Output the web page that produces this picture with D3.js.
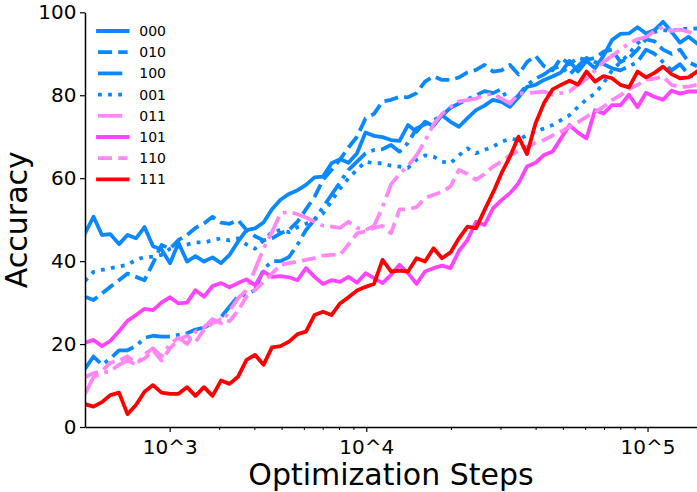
<!DOCTYPE html>
<html><head><meta charset="utf-8">
<script src="https://cdn.jsdelivr.net/npm/d3@7"></script>
<style>body{margin:0;background:#fff} svg{display:block} text{font-family:"DejaVu Sans",sans-serif}</style>
</head><body>
<svg id="chart" width="697" height="492"></svg>
<script>
const steps = [1000,1072,1149,1232,1321,1416,1518,1628,1745,1871,
  2006,2150,2305,2471,2649,2840,3045,3264,3499,3752,
  4022,4312,4622,4955,5313,5696,6106,6546,7018,7524,
  8066,8647,9270,9938,10655,11423,12246,13128,14074,15088,
  16176,17341,18591,19931,21367,22907,24557,26327,28224,30258,
  32438,34776,37282,39968,42849,45937,49247,52796,56600,60679,
  65052,69740,74765,80153,85929,92121,98760,105877,113507,121686,
  130455,139856,149935];

const acc000 = [46.7,50.7,46.3,46.5,44.1,46.3,45.5,48.2,43.6,42.8,39.5,44.4,39.9,41.2,39.9,40.9,39.5,41.5,44.7,47.5,47.9,49.3,
  52.5,54.8,56.2,57.1,58.4,60.2,60.4,63.6,64.6,63.7,66.0,71.0,70.2,69.9,69.2,69.0,72.8,71.2,73.6,72.6,75.2,73.6,72.4,74.5,
  76.4,77.5,78.9,78.4,77.2,79.5,82.0,82.5,83.7,84.5,85.5,88.3,85.7,88.3,86.5,89.5,93.3,94.8,94.9,96.4,94.9,95.7,97.7,95.3,92.7,94.1,92.5];
const acc010 = [31.4,30.6,32.2,33.8,35.4,37.0,36.2,35.4,39.5,43.9,43.0,45.1,46.3,48.0,49.1,50.7,49.3,49.0,49.9,
  47.5,46.0,45.0,45.5,46.7,47.5,49.5,52.5,55.5,59.6,62.0,64.5,67.4,70.0,74.4,75.5,78.5,78.9,79.6,79.5,80.5,83.3,84.6,83.7,83.7,
  84.3,85.5,86.1,87.3,85.7,86.0,87.3,85.0,88.0,89.5,87.0,86.0,89.0,87.5,89.0,88.5,89.0,90.5,91.0,88.0,89.0,91.0,93.5,93.0,91.0,90.0,91.0,88.0,87.0];
const acc100 = [14.0,17.0,15.0,16.5,18.5,18.5,19.5,21.5,22.0,21.8,21.8,22.2,22.6,23.5,24.0,25.0,26.5,29.0,31.5,32.0,33.0,38.0,40.0,40.0,41.0,
  44.0,47.5,50.0,53.0,56.0,59.0,62.0,64.0,66.0,66.8,67.0,68.0,66.4,68.5,72.0,73.0,74.0,75.0,77.0,78.0,79.0,80.0,81.0,80.5,
  81.5,78.0,80.0,82.5,84.0,85.0,86.5,87.0,85.0,87.0,89.0,88.0,87.5,86.5,86.0,87.0,88.0,91.0,90.0,88.0,86.0,87.5,85.0,84.0];
const acc001 = [35.2,37.4,37.9,38.3,38.7,39.1,40.3,41.0,41.0,41.5,43.0,43.5,44.0,44.5,44.5,45.0,45.5,45.0,45.5,44.0,43.0,45.0,47.0,47.5,47.0,48.2,49.0,50.0,
  51.5,54.5,57.5,60.0,62.0,64.0,63.6,63.6,63.0,62.8,62.5,64.5,65.5,65.2,64.0,63.6,65.5,67.2,66.0,66.8,67.6,68.8,69.5,69.2,70.4,71.2,72.0,72.8,74.0,
  75.2,77.2,79.0,80.4,82.9,86.0,88.0,90.0,92.5,94.0,95.3,95.7,95.5,96.0,96.0,96.1];
const acc011 = [8.0,12.0,13.0,13.5,15.0,16.0,15.0,17.5,19.0,17.0,20.0,21.5,20.0,23.0,24.0,26.0,25.0,28.0,31.0,33.0,38.0,43.0,47.0,
  51.5,51.9,51.3,50.5,49.5,48.5,48.3,48.0,49.5,48.0,47.5,48.5,53.0,58.5,61.0,63.0,65.5,69.0,73.0,75.5,77.2,78.5,
  78.8,79.2,80.0,80.4,79.2,78.0,80.4,80.5,80.7,80.9,80.1,80.5,80.9,82.5,84.0,86.0,88.0,89.5,91.0,92.5,93.5,94.0,95.5,96.5,95.5,95.8,95.3,94.5];
const acc101 = [20.3,21.0,19.5,20.8,23.1,25.6,27.0,28.5,28.2,30.0,31.3,29.8,30.0,33.0,31.4,34.0,34.7,33.7,34.7,35.6,34.2,37.5,36.2,36.4,
  36.1,35.4,38.3,36.2,34.5,35.4,35.0,36.2,34.8,37.1,35.9,34.7,36.7,39.1,37.1,34.5,37.5,38.3,38.9,38.3,
  42.5,45.1,49.5,48.7,52.7,54.7,56.4,58.8,62.8,63.7,65.6,66.4,69.6,72.8,71.0,69.6,76.4,75.6,77.6,77.6,80.1,77.1,80.6,79.6,78.9,81.1,80.4,80.9,80.9];
const acc110 = [12.0,13.0,13.5,15.5,16.0,17.0,15.5,16.5,18.5,16.0,19.0,21.0,22.0,20.5,23.5,25.0,26.0,25.5,28.0,31.5,33.0,35.0,37.0,
  39.1,39.5,39.9,40.3,40.7,41.3,41.5,41.5,44.0,46.7,47.2,48.0,48.5,46.7,52.5,52.5,53.0,55.2,56.0,56.7,58.0,62.0,
  61.0,59.6,61.0,62.8,64.0,65.6,66.5,67.6,68.5,69.2,70.3,71.2,72.5,73.5,74.8,76.0,77.2,78.8,80.0,81.5,82.5,83.7,84.0,84.5,82.5,82.0,82.1,82.5];
const acc111 = [5.5,4.9,6.0,7.7,8.3,3.1,5.3,8.5,10.1,8.3,8.0,8.0,9.6,7.5,9.6,7.5,11.2,10.4,12.1,16.2,
  17.4,15.0,19.2,19.5,20.6,22.4,23.0,27.0,27.8,27.0,29.8,31.3,32.9,33.8,34.5,40.3,37.5,37.7,37.5,40.7,
  39.9,43.1,40.7,42.1,45.5,48.3,47.9,52.3,56.5,61.2,65.2,70.0,65.8,73.2,78.1,81.4,82.5,83.5,82.6,85.7,
  83.3,84.6,84.1,82.5,81.9,85.7,84.3,85.4,86.9,85.1,84.1,84.3,85.7];

const seriesNames = ["000","010","100","001","011","101","110","111"];
const seriesValues = [acc000,acc010,acc100,acc001,acc011,acc101,acc110,acc111];
const yTicks = [0,20,40,60,80,100];
const xTicks = [2000,10000,100000];
const xTickLabels = ["10^3","10^4","10^5"];
const xMinorTicks = [3000,4000,5000,6000,7000,8000,9000,20000,30000,40000,50000,60000,70000,80000,90000];

// styles
const BLUE = "#0a88ff", LPINK = "#ff88f6", MAG = "#ff44ff", RED = "#ff0000";
const LW = 3.8;
const DASH = "14.1,6.1", DASHDOT = "24.3,6.1,3.8,6.1", DOT = "3.8,6.3";
const seriesColors = [BLUE,BLUE,BLUE,BLUE,LPINK,MAG,LPINK,RED];
const seriesDash = [null,DASH,DASHDOT,DOT,DASHDOT,null,DASH,null];

const L = 85, R = 697, T = 12.3, B = 427;
const svg = d3.select("#chart");
const x = d3.scaleLog().domain(d3.extent(steps)).range([L, R]);
const y = d3.scaleLinear().domain([0, 100]).range([B, T]);

svg.append("defs").append("clipPath").attr("id","clip")
  .append("rect").attr("x",L).attr("y",T-2).attr("width",R-L).attr("height",B-T+2);

const line = d3.line().x(d => x(d[0])).y(d => y(d[1]));
const gLines = svg.append("g").attr("clip-path","url(#clip)");
seriesValues.forEach((vals, i) => {
  const pts = steps.map((s, j) => [s, vals[j]]);
  gLines.append("path").datum(pts)
    .attr("d", line)
    .attr("fill","none")
    .attr("stroke", seriesColors[i])
    .attr("stroke-width", LW)
    .attr("stroke-linejoin","round")
    .attr("stroke-linecap", seriesDash[i] ? "butt" : "square")
    .attr("stroke-dasharray", seriesDash[i]);
});

// Y axis
const yAxis = svg.append("g").attr("transform",`translate(${L},0)`)
  .call(d3.axisLeft(y).tickValues(yTicks).tickSize(5).tickSizeOuter(0).tickPadding(3.5));
yAxis.selectAll("text").attr("font-size",20).attr("fill","#000").style("font-family","DejaVu Sans");
yAxis.selectAll(".tick line").attr("stroke","#000").attr("stroke-width",1.2);
yAxis.select(".domain").attr("stroke","#000").attr("stroke-width",1.5);

// X axis minor
const xMinor = svg.append("g").attr("transform",`translate(0,${B})`)
  .call(d3.axisBottom(x).tickValues(xMinorTicks).tickSize(3).tickSizeOuter(0).tickFormat(""));
xMinor.select(".domain").remove();
xMinor.selectAll(".tick line").attr("stroke","#000").attr("stroke-width",1);

// X axis major
const xAxis = svg.append("g").attr("transform",`translate(0,${B})`)
  .call(d3.axisBottom(x).tickValues(xTicks).tickSize(5).tickSizeOuter(0).tickPadding(7.8)
    .tickFormat((d, i) => xTickLabels[i]));
xAxis.selectAll("text").attr("font-size",20).attr("fill","#000").style("font-family","DejaVu Sans");
xAxis.selectAll(".tick line").attr("stroke","#000").attr("stroke-width",1.2);
xAxis.select(".domain").attr("stroke","#000").attr("stroke-width",1.5);

// Axis titles
svg.append("text").attr("x",(L+R)/2).attr("y",485).attr("text-anchor","middle")
  .attr("font-size",30).attr("fill","#000").text("Optimization Steps");
svg.append("text").attr("transform",`translate(27,${(T+B)/2}) rotate(-90)`)
  .attr("text-anchor","middle").attr("font-size",30).attr("fill","#000").text("Accuracy");

// Legend
const lg = svg.append("g");
seriesNames.forEach((name, i) => {
  const cy = 31 + i * 21.2;
  lg.append("line").attr("x1",98).attr("x2",127.6).attr("y1",cy).attr("y2",cy)
    .attr("stroke", seriesColors[i]).attr("stroke-width", LW)
    .attr("stroke-linecap", seriesDash[i] ? "butt" : "square")
    .attr("stroke-dasharray", seriesDash[i]);
  lg.append("text").attr("x",139.3).attr("y",cy+5).attr("font-size",14).attr("fill","#000").text(name);
});
</script>
</body></html>
